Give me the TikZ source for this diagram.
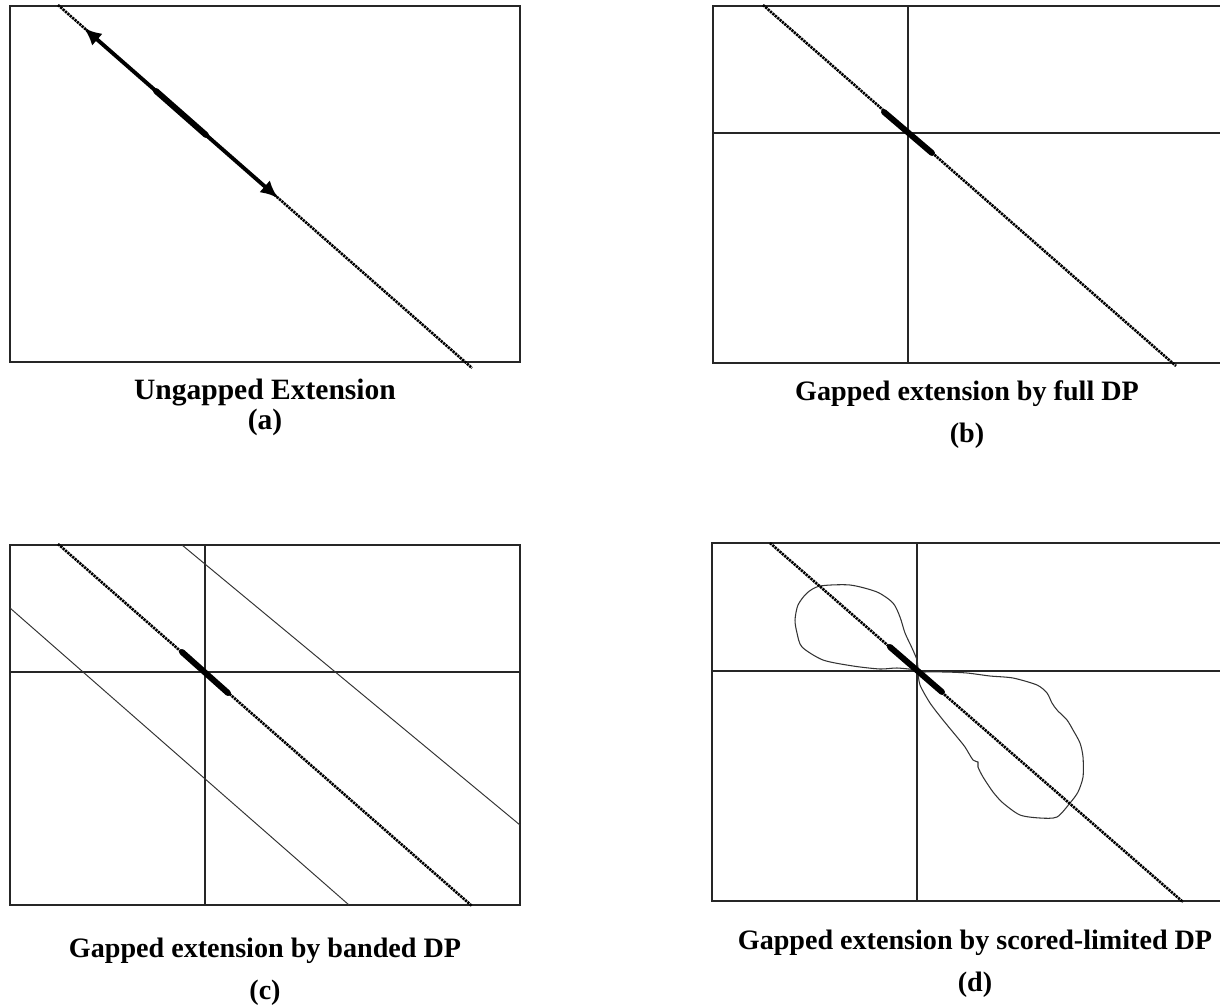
\documentclass[tikz,border=0pt]{standalone}
\usepackage{fontspec}
\setmainfont{Liberation Serif}
\usetikzlibrary{arrows.meta}
\tikzset{
  frame/.style={black!85,line width=0.9pt},
  axis/.style={black!85,line width=0.7pt},
  diag/.style={black,line width=1.5pt,dash pattern=on 1.3pt off 0.5pt},
  seed/.style={black,line width=3.4pt,line cap=round},
  band/.style={black!80,line width=0.55pt},
  blob/.style={black!80,line width=0.6pt},
  ext/.style={{Latex[length=10pt,width=9pt]}-{Latex[length=10pt,width=9pt]},line width=2.2pt},
  paneltitle/.style={font=\fontsize{16}{19}\selectfont\bfseries,inner sep=0pt},
}
\begin{document}
\begin{tikzpicture}[x=0.02cm,y=-0.02cm]
  \path[use as bounding box] (0,0) rectangle (1220,1007);

  % (a)
  \draw[frame] (10,6) rectangle (520,362);
  \draw[diag] (58,5) -- (472,368);
  \coordinate (tipup) at (84,28);
  \coordinate (tipdown) at (278,198);
  \draw[ext] (tipup) -- (tipdown);
  \draw[seed] (156,91) -- (206,135);

  % (b)
  \draw[frame] (1220,6) -| (713,363) -- (1220,363);
  \draw[axis] (908,6) -- (908,363);
  \draw[axis] (713,133) -- (1220,133);
  \draw[diag] (763,5) -- (1176,366);
  \draw[seed] (884,112) -- (932,153);

  % (c)
  \draw[frame] (10,545) rectangle (520,905);
  \draw[axis] (205,545) -- (205,905);
  \draw[axis] (10,672) -- (520,672);
  \draw[band] (182,545) -- (520,825);
  \draw[band] (10,608) -- (349,905);
  \draw[diag] (58,544) -- (472,906);
  \draw[seed] (182,652) -- (228,693);

  % (d)
  \draw[frame] (1220,543) -| (712,901) -- (1220,901);
  \draw[axis] (917,543) -- (917,901);
  \draw[axis] (712,671) -- (1220,671);
  \draw[blob] plot[smooth,tension=0.45] coordinates {
    (918,670) (917,660) (912,648) (905,633) (900,617) (893,603) (877,592)
    (850,585) (820,586) (807,593) (798,605) (795,620) (797,633) (802,647)
    (823,660) (853,666) (880,669) (897,668) (918,670)};
  \draw[blob] plot[smooth,tension=0.45] coordinates {
    (918,672) (945,672) (967,673) (990,676) (1013,678) (1037,685) (1047,693)
    (1052,703) (1057,710) (1067,720) (1073,730) (1080,743) (1083,757)
    (1083,777) (1078,792) (1070,803) (1057,817) (1040,818) (1020,815)
    (1003,803) (993,792) (983,777) (978,767) (978,762) (973,760) (965,747)
    (957,737) (943,720) (930,703) (920,685) (918,672)};
  \draw[diag] (770,543) -- (1183,902);
  \draw[seed] (890,647) -- (942,692);

  \node[paneltitle,font=\fontsize{16.8}{20}\selectfont\bfseries] (titlea) at (265,393) {Ungapped Extension};
  \node[paneltitle,font=\fontsize{16.8}{20}\selectfont\bfseries] (taga) at (265,422) {(a)};
  \foreach \nm/\xx/\yy/\txt in {
    b/967/394/{Gapped extension by full DP},
    c/265/951/{Gapped extension by banded DP},
    d/975/943/{Gapped extension by scored-limited DP}
  }{
    \node[paneltitle] (title\nm) at (\xx,\yy) {\txt};
    \node[paneltitle] (tag\nm) at (\xx,\yy+42) {(\nm)};
  }
\end{tikzpicture}
\end{document}
